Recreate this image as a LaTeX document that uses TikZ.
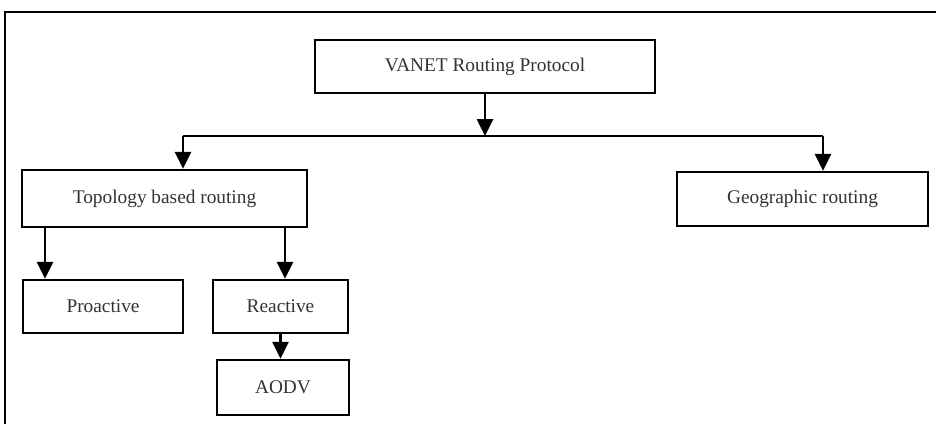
\documentclass[tikz,border=0pt]{standalone}
\usepackage{fontspec}
\setmainfont{Liberation Serif}
\usepackage{xcolor}
\usetikzlibrary{arrows.meta}

\tikzset{
  box/.style={draw, line width=1.3pt, fill=white, inner sep=0pt,
    font=\fontsize{11}{13}\selectfont, text=black!80},
  arr/.style={line width=1.5pt, -{Triangle[length=3.4mm,width=3.2mm]}},
  link/.style={line width=1.4pt}
}

\begin{document}
\begin{tikzpicture}[x=0.02cm,y=-0.02cm]
  \useasboundingbox (0,0) rectangle (936,424);

  % Outer frame (top and left only)
  \draw[line width=1.3pt] (5,424) -- (5,12) -- (936,12);

  % Boxes
  \node[box, minimum width=6.8cm, minimum height=1.06cm] (vanet) at (485,66.5) {VANET Routing Protocol};
  \node[box, minimum width=5.7cm, minimum height=1.14cm] (topo) at (164.5,198.5) {Topology based routing};
  \node[box, minimum width=5.02cm, minimum height=1.08cm] (geo) at (802.5,199) {Geographic routing};
  \node[box, minimum width=3.2cm, minimum height=1.06cm] (pro) at (103,306.5) {Proactive};
  \node[box, minimum width=2.7cm, minimum height=1.06cm] (rea) at (280.5,306.5) {Reactive};
  \node[box, minimum width=2.64cm, minimum height=1.1cm] (aodv) at (283,387.5) {AODV};

  % Branch points
  \coordinate (mid) at (485,136);
  \coordinate (left) at (183,136);
  \coordinate (right) at (823,136);
  \coordinate (proTop) at (45,227);
  \coordinate (reaTop) at (285,227);

  % Connectors
  \draw[arr] (vanet.south) -- (mid);
  \draw[link] (left) -- (right);
  \draw[arr] (left) -- (left |- topo.north);
  \draw[arr] (right) -- (right |- geo.north);
  \draw[arr] (proTop) -- (proTop |- pro.north);
  \draw[arr] (reaTop) -- (reaTop |- rea.north);
  \draw[arr] (rea.south) -- (rea.south |- aodv.north);
\end{tikzpicture}
\end{document}
